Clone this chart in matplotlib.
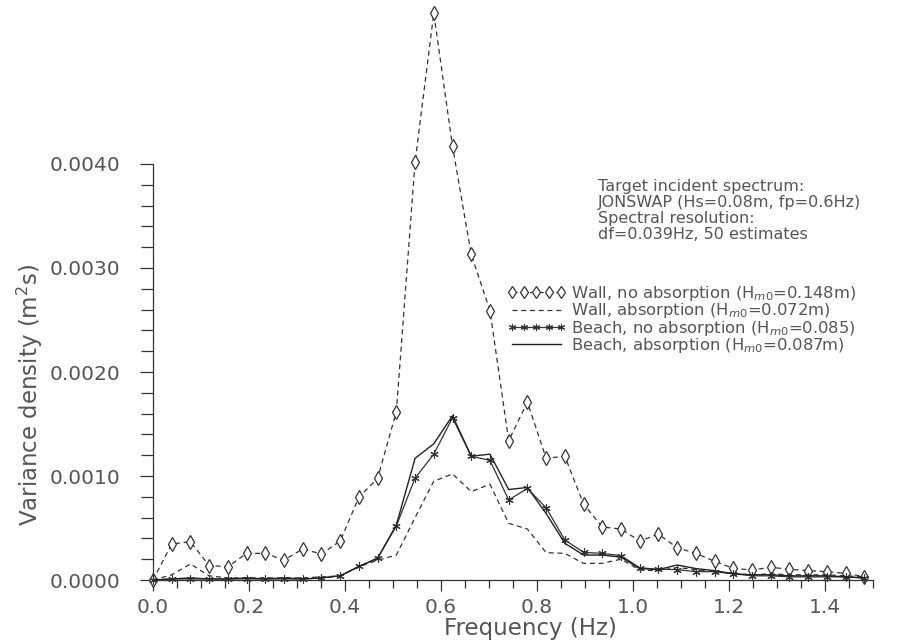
import numpy as np
import matplotlib
matplotlib.use('Agg')
import matplotlib.pyplot as plt
from matplotlib.ticker import MultipleLocator, FormatStrFormatter

# frequency bins, df = 0.039 Hz
freq = [0.000, 0.039, 0.078, 0.117, 0.156, 0.195, 0.234, 0.273, 0.312, 0.351,
        0.390, 0.429, 0.468, 0.507, 0.546, 0.585, 0.624, 0.663, 0.702, 0.741,
        0.780, 0.819, 0.858, 0.897, 0.936, 0.975, 1.014, 1.053, 1.092, 1.131,
        1.170, 1.209, 1.248, 1.287, 1.326, 1.365, 1.404, 1.443, 1.482]

wall_noabs = [0.0, 0.000346, 0.000368, 0.000138, 0.000128, 0.000256, 0.000256,
              0.000192, 0.000298, 0.000250, 0.000375, 0.000795, 0.000978, 0.00162,
              0.00402, 0.00545, 0.00417, 0.00313, 0.00259, 0.00134, 0.00171,
              0.00117, 0.00119, 0.00073, 0.00051, 0.00049, 0.000375, 0.00044,
              0.00031, 0.000256, 0.00018, 0.000112, 0.000096, 0.000122, 0.000103,
              0.00009, 0.00008, 0.000064, 0.000032]

wall_abs = [0.0, 0.00005, 0.000154, 0.00004, 0.00002, 0.00002, 0.00002, 0.00002,
            0.00002, 0.00003, 0.00004, 0.000128, 0.00019, 0.00024, 0.0006, 0.00095,
            0.00102, 0.00085, 0.00092, 0.000545, 0.00049, 0.000263, 0.000256,
            0.00016, 0.00016, 0.0002, 0.000096, 0.00009, 0.00012, 0.0001, 0.00008,
            0.00006, 0.00005, 0.00006, 0.00005, 0.00005, 0.00005, 0.00004, 0.00003]

beach_noabs = [0.0, 0.00001, 0.00001, 0.00001, 0.00001, 0.00001, 0.00001, 0.00001,
               0.00001, 0.00002, 0.00004, 0.00013, 0.00021, 0.00052, 0.00098,
               0.00121, 0.00156, 0.00119, 0.00115, 0.00077, 0.00088, 0.000695,
               0.000385, 0.000266, 0.000256, 0.000234, 0.000118, 0.000103, 0.0001,
               0.00008, 0.00008, 0.00006, 0.00004, 0.00004, 0.00003, 0.00003,
               0.00003, 0.00003, 0.00002]

beach_abs = [0.0, 0.00001, 0.00002, 0.00001, 0.00001, 0.00002, 0.00001, 0.00002,
             0.00001, 0.00002, 0.00004, 0.00013, 0.00021, 0.00053, 0.00117, 0.00131,
             0.00158, 0.00119, 0.00121, 0.00087, 0.00089, 0.00064, 0.000353,
             0.00024, 0.00024, 0.00022, 0.00011, 0.0001, 0.000144, 0.00011, 0.00009,
             0.00006, 0.00005, 0.00005, 0.00004, 0.00004, 0.00004, 0.00003, 0.00002]

labels = [r'Wall, no absorption (H$_{m0}$=0.148m)',
          r'Wall, absorption (H$_{m0}$=0.072m)',
          r'Beach, no absorption (H$_{m0}$=0.085)',
          r'Beach, absorption (H$_{m0}$=0.087m)']

note = ('Target incident spectrum:\n'
        'JONSWAP (Hs=0.08m, fp=0.6Hz)\n'
        'Spectral resolution:\n'
        'df=0.039Hz, 50 estimates')

ink = '#333333'
txt = '#555555'

W, H = 904, 644
fig = plt.figure(figsize=(W / 100, H / 100), dpi=100)
# axes box in pixels: x 153..873 (0..1.5 Hz), y 580 (0) .. 8 (0.0055)
ax = fig.add_axes([153 / W, (H - 580) / H, 720 / W, 572 / H])
ax.set_xlim(0, 1.5)
ax.set_ylim(0, 0.0055)

dash = (0, (4, 3))
ax.plot(freq, wall_noabs, ls=dash, lw=0.9, color=ink, marker='d', ms=7,
        mfc='white', mec=ink, mew=0.9, clip_on=False, label=labels[0])
ax.plot(freq, wall_abs, ls=dash, lw=0.9, color=ink, clip_on=False, label=labels[1])
ax.plot(freq, beach_noabs, ls='-', lw=0.9, color=ink, marker=(6, 2, 0), ms=6,
        mew=0.8, clip_on=False, label=labels[2])
ax.plot(freq, beach_abs, ls='-', lw=1.0, color='#222222', clip_on=False,
        label=labels[3])

for s in ['top', 'right']:
    ax.spines[s].set_visible(False)
ax.spines['left'].set_bounds(0, 0.004)
ax.spines['bottom'].set_bounds(0, 1.5)
for s in ['left', 'bottom']:
    ax.spines[s].set_color(ink)
    ax.spines[s].set_linewidth(0.9)

ax.set_xticks(np.arange(0, 1.41, 0.2))
ax.xaxis.set_minor_locator(MultipleLocator(0.05))
ax.set_yticks(np.arange(0, 0.00401, 0.001))
ax.set_yticks(np.arange(0, 0.00401, 0.0002), minor=True)
ax.xaxis.set_major_formatter(FormatStrFormatter('%.1f'))
ax.yaxis.set_major_formatter(FormatStrFormatter('%.4f'))
ax.tick_params(which='major', length=8, width=0.9, color=ink, labelsize=14.5,
               labelcolor=txt, pad=5)
ax.tick_params(which='minor', length=6, width=0.9, color=ink)
ax.tick_params(axis='y', which='major', length=9.5, pad=14)
ax.tick_params(axis='y', which='minor', length=8.5)

ax.set_xlabel('Frequency (Hz)', fontsize=16.5, color=txt)
ax.xaxis.set_label_coords((530 - 153) / 720, -(617 - 580) / 572)
ax.set_ylabel(r'Variance density (m$^2$s)', fontsize=16.5, color=txt)
ax.yaxis.set_label_coords((45 - 153) / 720, (580 - 395) / 572)

fig.text(598 / W, 1 - 179 / H, note, fontsize=11.5, color=txt, va='top',
         ha='left', linespacing=1.08)

leg = ax.legend(loc='upper left', bbox_to_anchor=(507 / W, 1 - 284 / H),
                bbox_transform=fig.transFigure, frameon=False, numpoints=5,
                handlelength=3.6, handletextpad=0.3, labelspacing=-0.1,
                fontsize=11.8, borderpad=0, borderaxespad=0, markerscale=0.85)
for t in leg.get_texts():
    t.set_color(txt)

fig.savefig('out.png', dpi=100)
